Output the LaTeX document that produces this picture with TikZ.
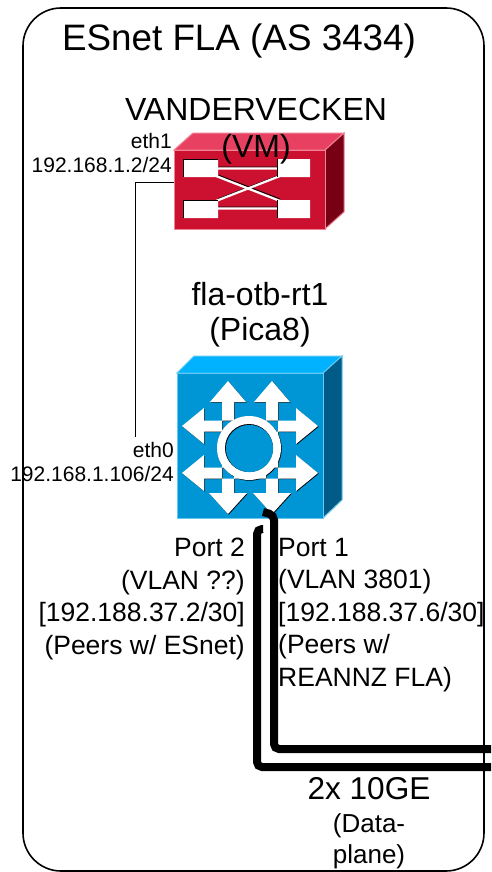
\documentclass[tikz,border=0pt]{standalone}
\usepackage{fontspec}
\setmainfont{Liberation Sans}
\definecolor{rackfront}{RGB}{204,17,48}
\definecolor{racktop}{RGB}{232,64,96}
\definecolor{rackside}{RGB}{120,0,20}
\definecolor{rackedge}{RGB}{240,130,150}
\definecolor{swfront}{RGB}{0,150,214}
\definecolor{swtop}{RGB}{0,178,255}
\definecolor{swside}{RGB}{0,92,135}
\definecolor{swedge}{RGB}{100,200,240}
\tikzset{
  lab/.style={inner sep=0pt,align=center,text=black},
  outerbox/.style={draw=black,line width=1.6pt,rounded corners=38pt},
  thin link/.style={draw=black,line width=1pt},
  thick link/.style={draw=black,line width=8pt,rounded corners=5pt},
  portl/.style={inner sep=0pt,align=right,anchor=north east,font=\fontsize{26.5}{32.5}\selectfont},
  portr/.style={inner sep=0pt,align=left,anchor=north west,font=\fontsize{26.5}{32.5}\selectfont},
  smalllab/.style={inner sep=0pt,align=right,anchor=east,font=\fontsize{21}{25}\selectfont},
  whitearrow/.style={fill=white,draw=none},
  arrowshadow/.style={fill=black,draw=none}
}
\newcommand{\vboth}[1]{(#1-6,493) -- (#1-6,402) -- (#1-18,402) -- (#1,381) -- (#1+18,402) -- (#1+6,402) -- (#1+6,493) -- (#1+19,493) -- (#1,514) -- (#1-19,493) -- cycle}
\newcommand{\hboth}[1]{(296,#1-5.5) -- (204,#1-5.5) -- (204,#1-18) -- (182,#1) -- (204,#1+18) -- (204,#1+5.5) -- (296,#1+5.5) -- (296,#1+18) -- (318,#1) -- (296,#1-18) -- cycle}
\newcommand{\swarrows}{\vboth{228} \vboth{272} \hboth{426} \hboth{473}}
\begin{document}
\begin{tikzpicture}[x=1pt,y=-1pt]
\useasboundingbox (0,0) rectangle (491,872);
\fill[white] (0,0) rectangle (491,872);
\draw[outerbox] (23,8) rectangle (484,871);
\node[lab,font=\fontsize{36.8}{40}\selectfont] (title) at (239,41) {ESnet FLA (AS 3434)};

% VANDERVECKEN cube
\fill[racktop,draw=rackedge,line width=1pt] (174,150) -- (193,133) -- (344,133) -- (325,150) -- cycle;
\fill[rackside,draw=rackedge,line width=1pt] (325,150) -- (344,133) -- (344,212) -- (325,229) -- cycle;
\node[fill=rackfront,draw=rackedge,line width=1pt,minimum width=151pt,minimum height=79pt,inner sep=0pt] (vm) at (249.5,189.5) {};
\draw[black,line width=1pt] (218,167) -- (280,167) (218,207) -- (280,207) (218,175) -- (280,199) (218,199) -- (280,175);
\draw[white,line width=2.2pt] (218,168.5) -- (280,168.5) (218,208.5) -- (280,208.5) (216,176) -- (280,201) (216,201) -- (280,176);
\fill[white] (183,159) rectangle (218,177) (277,159) rectangle (310,177) (183,200) rectangle (218,218) (277,200) rectangle (310,218);
\draw[black,line width=0.6pt] (183,177)--(183,159)--(218,159) (183,218) -- (183,200) -- (218,200) (277,177) -- (277,159) (277,218)--(277,200);
\node[lab,font=\fontsize{32}{37}\selectfont] (vmname) at (256,131) {VANDERVECKEN\\(VM)};

% fla-otb-rt1 cube
\fill[swtop,draw=swedge,line width=1pt] (177,373) -- (194,356) -- (342,356) -- (323,373) -- cycle;
\fill[swside,draw=swedge,line width=1pt] (323,373) -- (342,356) -- (342,500) -- (323,518) -- cycle;
\node[fill=swfront,draw=swedge,line width=1pt,minimum width=146pt,minimum height=145pt,inner sep=0pt] (sw) at (250,445.5) {};
\begin{scope}[xshift=0.7pt,yshift=-0.7pt]
  \fill[arrowshadow] \swarrows;
  \fill[arrowshadow] (249,448) circle (32);
\end{scope}
\fill[whitearrow] \swarrows;
\fill[white] (249,448) circle (32);
\fill[black] (249,448) circle (24);
\fill[swfront] (249.5,448.5) circle (23.6);
\node[lab,font=\fontsize{32}{35}\selectfont] (swname) at (260,315) {fla-otb-rt1\\(Pica8)};

% labels
\node[smalllab] (eth1) at (172,141) {eth1};
\node[smalllab] (ip1) at (172,165) {192.168.1.2/24};
\node[smalllab] (eth0) at (174,450) {eth0};
\node[smalllab] (ip0) at (174,474) {192.168.1.106/24};

\coordinate (vmleft) at (174,182);
\coordinate (ethend) at (135,437);
\draw[thin link] (vmleft) -- (135,182) -- (ethend);

\node[portl] (p2) at (245,538) {Port 2\\(VLAN ??)\\{[}192.188.37.2/30{]}\\(Peers w/ ESnet)};
\node[portr] (p1) at (278,538) {Port 1\\(VLAN 3801)\\{[}192.188.37.6/30{]}\\(Peers w/\\REANNZ FLA)};

\coordinate (p1a) at (263,512);
\coordinate (p2a) at (263,529);
\coordinate (e1) at (491,749);
\coordinate (e2) at (491,767);
\draw[thick link] (p1a) -- (274,515) -- (274,749) -- (e1);
\draw[thick link] (p2a) -- (257,529) -- (257,767) -- (e2);

\node[lab,font=\fontsize{31.6}{36}\selectfont] (ge) at (369,789) {2x 10GE};
\node[lab,font=\fontsize{26}{31}\selectfont] (dp) at (369,841) {(Data-\\plane)};
\end{tikzpicture}
\end{document}
